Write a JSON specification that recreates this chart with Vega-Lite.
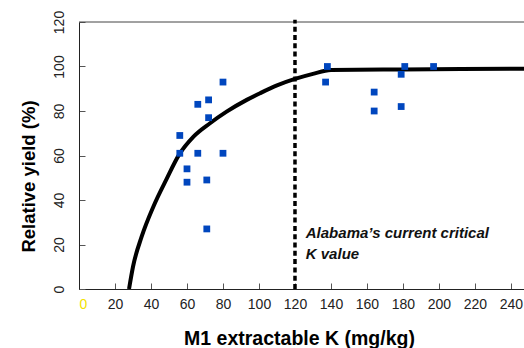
{
  "$schema": "https://vega.github.io/schema/vega-lite/v6.json",
  "width": 446,
  "height": 267,
  "autosize": {"type": "none"},
  "padding": {"left": 79, "top": 22, "right": 0, "bottom": 59},
  "background": "white",
  "config": {
    "font": "Liberation Sans",
    "view": {"stroke": null},
    "axis": {"grid": false, "domainColor": "#222", "domainWidth": 1, "tickColor": "#555", "tickSize": -6, "labelFont": "Liberation Sans", "titleFont": "Liberation Sans", "labelFontSize": 14, "labelColor": "#222", "titleFontWeight": "bold", "titleColor": "#000"}
  },
  "datasets": {
    "points": [
      {"k": 80, "ry": 93}, {"k": 66, "ry": 83}, {"k": 72, "ry": 85}, {"k": 72, "ry": 77},
      {"k": 56, "ry": 69}, {"k": 56, "ry": 61}, {"k": 66, "ry": 61}, {"k": 80, "ry": 61},
      {"k": 60, "ry": 54}, {"k": 60, "ry": 48}, {"k": 71, "ry": 49}, {"k": 71, "ry": 27},
      {"k": 138, "ry": 100}, {"k": 137, "ry": 93}, {"k": 181, "ry": 100}, {"k": 179, "ry": 96.5},
      {"k": 197, "ry": 100}, {"k": 164, "ry": 88.5}, {"k": 164, "ry": 80}, {"k": 179, "ry": 82}
    ],
    "curve": [
      {"k": 27.8, "ry": 0}, {"k": 30, "ry": 10}, {"k": 34.8, "ry": 23.5}, {"k": 41.3, "ry": 37},
      {"k": 48.7, "ry": 49.5}, {"k": 55.7, "ry": 60.5}, {"k": 63.5, "ry": 68.4}, {"k": 72.8, "ry": 74.5},
      {"k": 82, "ry": 79.7}, {"k": 93.2, "ry": 85}, {"k": 100.6, "ry": 88}, {"k": 110, "ry": 91.5},
      {"k": 120, "ry": 94.4}, {"k": 130, "ry": 96.7}, {"k": 140, "ry": 98.4}, {"k": 180, "ry": 98.7},
      {"k": 250, "ry": 99}
    ],
    "frame": [{"k0": 0, "k1": 247.8, "ry": 120}],
    "critical": [{"k": 120, "y0": 0, "y1": 121}],
    "notes": [
      {"k": 126, "ry": 22.9, "label": "Alabama’s current critical"},
      {"k": 126, "ry": 13.5, "label": "K value"}
    ]
  },
  "encoding": {
    "x": {
      "field": "k", "type": "quantitative",
      "scale": {"domain": [0, 247.8], "nice": false, "zero": false},
      "axis": {
        "title": "M1 extractable K (mg/kg)",
        "titleFontSize": 19.5,
        "values": [0, 20, 40, 60, 80, 100, 120, 140, 160, 180, 200, 220, 240],
        "labelPadding": 14,
        "labelColor": {"condition": {"test": "datum.value == 0", "value": "#f2e200"}, "value": "#222"},
        "titleX": 220, "titleY": 55.5, "titleBaseline": "alphabetic", "titleAlign": "center"
      }
    },
    "y": {
      "field": "ry", "type": "quantitative",
      "scale": {"domain": [0, 120], "nice": false},
      "axis": {
        "title": "Relative yield (%)",
        "titleFontSize": 18.5,
        "values": [0, 20, 40, 60, 80, 100, 120],
        "labelAngle": -90, "labelAlign": "center", "labelBaseline": "bottom", "labelPadding": 19,
        "titleX": -45, "titleY": 154, "titleAngle": -90, "titleBaseline": "alphabetic", "titleAlign": "center"
      }
    }
  },
  "layer": [
    {
      "data": {"name": "frame"},
      "mark": {"type": "rule", "color": "#444", "strokeWidth": 1},
      "encoding": {
        "x": {"field": "k0", "type": "quantitative"},
        "x2": {"field": "k1"}
      }
    },
    {
      "data": {"name": "critical"},
      "mark": {"type": "rule", "color": "black", "strokeWidth": 3.5, "strokeDash": [5, 3.3], "clip": false},
      "encoding": {
        "y": {"field": "y0", "type": "quantitative"},
        "y2": {"field": "y1"}
      }
    },
    {
      "data": {"name": "curve"},
      "mark": {"type": "line", "color": "black", "strokeWidth": 4, "interpolate": "monotone", "clip": true},
      "encoding": {}
    },
    {
      "data": {"name": "points"},
      "mark": {"type": "square", "filled": true, "color": "#0046BE", "size": 46, "opacity": 1},
      "encoding": {}
    },
    {
      "data": {"name": "notes"},
      "mark": {"type": "text", "align": "left", "baseline": "alphabetic", "font": "Liberation Sans", "fontSize": 15, "fontWeight": "bold", "fontStyle": "italic", "color": "#111"},
      "encoding": {
        "text": {"field": "label"}
      }
    }
  ]
}
